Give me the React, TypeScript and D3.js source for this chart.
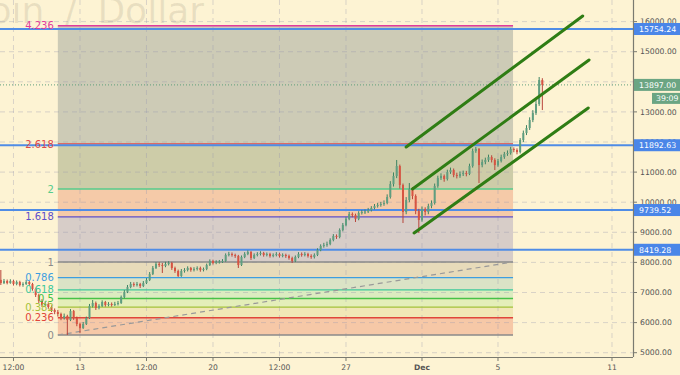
import React from "react";
import * as d3 from "d3";

const W = 680;
const H = 375;
const PLOT_R = 633;
const PLOT_B = 357;

// ---- data ----
const xDomain = [Date.UTC(2017, 10, 8, 18, 57), Date.UTC(2017, 11, 12, 2, 32)];
const yDomain = [5000, 16000];
const priceTicks = [5000, 6000, 7000, 8000, 9000, 10000, 11000, 12000, 13000, 14000, 15000, 16000];

const timeTicks = [
  Date.UTC(2017, 10, 9, 12),
  Date.UTC(2017, 10, 13),
  Date.UTC(2017, 10, 16, 12),
  Date.UTC(2017, 10, 20),
  Date.UTC(2017, 10, 23, 12),
  Date.UTC(2017, 10, 27),
  Date.UTC(2017, 11, 1),
  Date.UTC(2017, 11, 5),
  Date.UTC(2017, 11, 11),
];
const timeTickLabels = ["12:00", "13", "12:00", "20", "12:00", "27", "Dec", "5", "11"];

const candleStart = Date.UTC(2017, 10, 8, 20);
const candleHours = 4;
const firstOpen = 7420;
const closes = [
  7315, 7382, 7315, 7382, 7282, 7349, 7249, 7282, 7349, 7282,
  7116, 6917, 6718, 6585, 6618, 6518, 6419, 6352, 6286, 6153,
  6219, 6086, 6385, 6153, 5953, 5820, 5953, 6153, 6551, 6651,
  6485, 6551, 6684, 6585, 6618, 6585, 6618, 6651, 6850, 7016,
  7182, 7282, 7249, 7282, 7216, 7315, 7415, 7614, 7814, 7947,
  7913, 7880, 7947, 7980, 7814, 7714, 7548, 7714, 7747, 7814,
  7747, 7780, 7814, 7747, 7780, 7913, 8047, 7980, 8013, 8030,
  8047, 8246, 8279, 8246, 8213, 7913, 8180, 8279, 8345, 8146,
  8246, 8279, 8312, 8246, 8279, 8213, 8246, 8279, 8213, 8246,
  8213, 8146, 8047, 8180, 8279, 8246, 8279, 8213, 8180, 8246,
  8412, 8545, 8578, 8611, 8744, 8877, 8844, 9076, 9242, 9441,
  9607, 9574, 9441, 9641, 9674, 9690, 9740, 9807, 9873, 9906,
  9940, 9973, 10172, 10604, 10870, 11202, 10571, 9674, 10073, 10438,
  10206, 9707, 9408, 9774, 9674, 9873, 9973, 10538, 10804, 10870,
  10770, 11003, 11069, 10903, 10870, 10936, 10970, 10936, 11202, 11700,
  11767, 11235, 11335, 11402, 11501, 11402, 11235, 11368, 11501, 11601,
  11634, 11767, 11734, 11667, 12066, 12298, 12465, 12730, 12963, 13262,
  14059, 13897,
];
const highs = [
  7747, 7450, 7430, 7440, 7420, 7400, 7390, 7340, 7420, 7380,
  7320, 7160, 6960, 6780, 6700, 6670, 6570, 6470, 6420, 6330,
  6300, 6260, 6450, 6420, 6200, 6000, 6020, 6200, 6620, 6750,
  6700, 6610, 6740, 6720, 6680, 6670, 6690, 6720, 6900, 7080,
  7250, 7350, 7340, 7350, 7320, 7380, 7480, 7680, 7880, 8010,
  8010, 7980, 8020, 8040, 8020, 7860, 7760, 7780, 7810, 7870,
  7850, 7840, 7870, 7860, 7830, 7960, 8100, 8090, 8070, 8080,
  8110, 8300, 8350, 8330, 8290, 8250, 8230, 8340, 8400, 8380,
  8300, 8340, 8370, 8350, 8330, 8320, 8300, 8340, 8320, 8300,
  8290, 8260, 8190, 8230, 8340, 8330, 8340, 8320, 8270, 8300,
  8470, 8600, 8650, 8690, 8800, 8940, 8930, 9130, 9310, 9500,
  9680, 9660, 9620, 9700, 9740, 9760, 9810, 9870, 9940, 9980,
  10010, 10060, 10260, 10700, 10990, 11402, 11250, 10620, 10170, 10637,
  10500, 10260, 9780, 9860, 9830, 9950, 10060, 10620, 10880, 10960,
  10920, 11080, 11150, 11120, 10980, 11020, 11050, 11040, 11280, 11780,
  11833, 11800, 11420, 11480, 11580, 11560, 11460, 11440, 11580, 11670,
  11720, 11840, 11820, 11790, 12130, 12380, 12560, 12820, 13060, 13400,
  14159, 14120,
];
const lows = [
  7250, 7280, 7270, 7290, 7230, 7240, 7200, 7190, 7250, 7230,
  7060, 6850, 6650, 6520, 6540, 6460, 6350, 6280, 6200, 6080,
  6100, 5588, 6050, 6090, 5880, 5654, 5790, 5920, 6120, 6500,
  6420, 6440, 6520, 6530, 6540, 6530, 6550, 6570, 6620, 6810,
  6980, 7140, 7190, 7200, 7150, 7180, 7280, 7380, 7580, 7780,
  7850, 7648, 7840, 7900, 7750, 7650, 7515, 7520, 7660, 7700,
  7690, 7700, 7730, 7690, 7700, 7740, 7880, 7930, 7940, 7960,
  7980, 8020, 8200, 8190, 8150, 7814, 7880, 8140, 8240, 8080,
  8110, 8200, 8230, 8190, 8200, 8160, 8170, 8200, 8160, 8170,
  8150, 8090, 7980, 8010, 8140, 8190, 8200, 8160, 8120, 8130,
  8210, 8370, 8490, 8520, 8570, 8700, 8780, 8800, 9030, 9200,
  9400, 9500, 9342, 9400, 9590, 9610, 9640, 9690, 9760, 9820,
  9850, 9880, 9930, 10120, 10520, 10800, 10450, 9308, 9600, 10000,
  10100, 9600, 8976, 9350, 9560, 9600, 9800, 9920, 10480, 10740,
  10680, 10720, 10940, 10830, 10790, 10810, 10870, 10860, 10900, 11150,
  11640, 10637, 11160, 11260, 11340, 11320, 11069, 11180, 11320, 11440,
  11540, 11580, 11660, 11590, 11620, 12000, 12230, 12400, 12660, 12900,
  13200, 13062,
];

const fibStart = Date.UTC(2017, 10, 11, 20);
const fibEnd = Date.UTC(2017, 11, 5, 19);
const fibLow = 5588;
const fibHigh = 8013;
const fibLevels = [0, 0.236, 0.382, 0.5, 0.618, 0.786, 1, 1.618, 2, 2.618, 4.236];
const fibLabels = ["0", "0.236", "0.382", "0.5", "0.618", "0.786", "1", "1.618", "2", "2.618", "4.236"];
const fibLineColors = ["#8a8a8a", "#e0453a", "#a4c23a", "#47c247", "#3cc99a", "#3d9ee0", "#8a8a8a", "#5e4fc9", "#55cc8c", "#e04848", "#e23a9c"];
// fill of band from level[i] up to level[i+1]
const fibFillColors = ["#f6c8a7", "#f1e7b6", "#e4eeb9", "#dbebc0", "#dbe3c6", "#e7dbba", "#d7cdc8", "#f5caa8", "#cdcca8", "#cdcbb6"];

const hLines = [15754.24, 11892.63, 9739.52, 8419.28];
const currentPrice = 13897.0;
const countdown = "39:09";

const channels: [number, number, number, number][] = [
  [Date.UTC(2017, 10, 30, 4), 11834, Date.UTC(2017, 11, 9, 11), 16186],
  [Date.UTC(2017, 10, 30, 12), 10439, Date.UTC(2017, 11, 9, 19), 14724],
  [Date.UTC(2017, 10, 30, 14), 8977, Date.UTC(2017, 11, 9, 18), 13130],
];

const FONT = "'DejaVu Sans', Verdana, sans-serif";

export default function App() {
  const x = d3.scaleUtc().domain(xDomain).range([0, PLOT_R]);
  const y = d3.scaleLinear().domain(yDomain).range([352.7, 21.6]);

  const candles = closes.map((c, i) => {
    const o = i === 0 ? firstOpen : closes[i - 1];
    const t = candleStart + i * candleHours * 3600 * 1000;
    return { t, o, c, hi: highs[i], lo: lows[i] };
  });

  const fx0 = x(fibStart);
  const fx1 = x(fibEnd);
  const fibPrice = (l: number) => fibLow + l * (fibHigh - fibLow);

  const gridColor = "rgba(150,150,175,0.35)";

  return (
    <div style={{ position: "absolute", left: 0, top: 0 }}>
      <svg width={W} height={H} style={{ display: "block", background: "#fdf3d3" }}>
        <rect x={0} y={0} width={W} height={H} fill="#fdf3d3" />
        {/* watermark */}
        <text x={204} y={23} textAnchor="end" fontFamily={FONT} fontSize={36}
          fill="rgba(90,80,60,0.12)" style={{ wordSpacing: "9px" }}>
          Bitcoin / Dollar
        </text>

        {/* fib bands */}
        {fibFillColors.map((col, i) => {
          const yTop = y(fibPrice(fibLevels[i + 1]));
          const yBot = y(fibPrice(fibLevels[i]));
          return <rect key={"fb" + i} x={fx0} y={yTop} width={fx1 - fx0} height={yBot - yTop} fill={col} />;
        })}

        {/* grid */}
        {priceTicks.map((p) => (
          <line key={"gh" + p} x1={0} x2={PLOT_R} y1={y(p)} y2={y(p)} stroke={gridColor} strokeDasharray="5 4" />
        ))}
        {timeTicks.map((t) => (
          <line key={"gv" + t} x1={x(t)} x2={x(t)} y1={0} y2={PLOT_B} stroke={gridColor} strokeDasharray="5 4" />
        ))}

        {/* fib level lines */}
        {fibLevels.map((l, i) => (
          <line key={"fl" + i} x1={fx0} x2={fx1} y1={y(fibPrice(l))} y2={y(fibPrice(l))}
            stroke={fibLineColors[i]} strokeWidth={1.4} />
        ))}
        {/* fib trend line */}
        <line x1={fx0} y1={y(fibLow)} x2={fx1} y2={y(fibHigh)} stroke="#999" strokeWidth={1.2} strokeDasharray="5 4" />

        {/* horizontal blue lines */}
        {hLines.map((p) => (
          <line key={"hl" + p} x1={0} x2={PLOT_R} y1={y(p)} y2={y(p)} stroke="#4f8ce6" strokeWidth={2} />
        ))}

        {/* current price dotted */}
        <line x1={0} x2={PLOT_R} y1={y(currentPrice)} y2={y(currentPrice)} stroke="#5f9f7c" strokeWidth={1} strokeDasharray="1 2" />

        {/* candles */}
        {candles.map((d, i) => {
          const up = d.c >= d.o;
          const cx = x(d.t);
          const yt = y(Math.max(d.o, d.c));
          const yb = y(Math.min(d.o, d.c));
          return (
            <g key={"c" + i}>
              <line x1={cx} x2={cx} y1={y(d.hi)} y2={y(d.lo)} stroke={up ? "#3e8463" : "#b8443a"} strokeWidth={1} />
              <rect x={cx - 1} y={yt} width={2} height={Math.max(1, yb - yt)} fill={up ? "#5f9e80" : "#d75442"} />
            </g>
          );
        })}

        {/* channel lines */}
        {channels.map((c, i) => (
          <line key={"ch" + i} x1={x(c[0])} y1={y(c[1])} x2={x(c[2])} y2={y(c[3])}
            stroke="#2f7d14" strokeWidth={3} strokeLinecap="round" />
        ))}

        {/* fib labels */}
        {fibLevels.map((l, i) => (
          <text key={"ft" + i} x={fx0 - 4} y={y(fibPrice(l))} dy="0.36em" textAnchor="end"
            fontFamily={FONT} fontSize={10} fill={fibLineColors[i]}>
            {fibLabels[i]}
          </text>
        ))}

        {/* axes */}
        <rect x={PLOT_R} y={0} width={W - PLOT_R} height={H} fill="#fdf3d3" />
        <rect x={0} y={PLOT_B} width={W} height={H - PLOT_B} fill="#fdf3d3" />
        <line x1={PLOT_R + 0.5} x2={PLOT_R + 0.5} y1={0} y2={PLOT_B} stroke="#7a7a70" strokeWidth={1.2} />
        <line x1={0} x2={PLOT_R} y1={PLOT_B + 0.5} y2={PLOT_B + 0.5} stroke="#7a7a70" strokeWidth={1.2} />
        {priceTicks.map((p) => (
          <g key={"yt" + p}>
            <line x1={PLOT_R} x2={PLOT_R + 4} y1={y(p)} y2={y(p)} stroke="#7a7a70" />
            <text x={PLOT_R + 7} y={y(p)} dy="0.36em" fontFamily={FONT} fontSize={7.7} fill="#555">
              {d3.format(".2f")(p)}
            </text>
          </g>
        ))}
        {timeTicks.map((t, i) => (
          <g key={"xt" + t}>
            <line x1={x(t)} x2={x(t)} y1={PLOT_B} y2={PLOT_B + 4} stroke="#7a7a70" />
            <text x={x(t)} y={370} textAnchor="middle" fontFamily={FONT} fontSize={7.6}
              fill="#555" fontWeight={timeTickLabels[i] === "Dec" ? "bold" : "normal"}>
              {timeTickLabels[i]}
            </text>
          </g>
        ))}

        {/* price boxes */}
        {hLines.map((p) => (
          <g key={"pb" + p}>
            <rect x={PLOT_R + 1} y={y(p) - 6} width={W - PLOT_R - 1} height={12} fill="#4a86e8" />
            <text x={PLOT_R + 6} y={y(p)} dy="0.36em" fontFamily={FONT} fontSize={7.8} fill="#fff">
              {d3.format(".2f")(p)}
            </text>
          </g>
        ))}
        <rect x={PLOT_R + 1} y={y(currentPrice) - 6} width={W - PLOT_R - 1} height={12} fill="#6ba583" />
        <text x={PLOT_R + 6} y={y(currentPrice)} dy="0.36em" fontFamily={FONT} fontSize={7.8} fill="#fff">
          {d3.format(".2f")(currentPrice)}
        </text>
        <rect x={652} y={y(currentPrice) + 8} width={W - 652} height={11} fill="#6ba583" />
        <text x={656} y={y(currentPrice) + 13.5} dy="0.36em" fontFamily={FONT} fontSize={7.8} fill="#fff">
          {countdown}
        </text>
      </svg>
    </div>
  );
}
